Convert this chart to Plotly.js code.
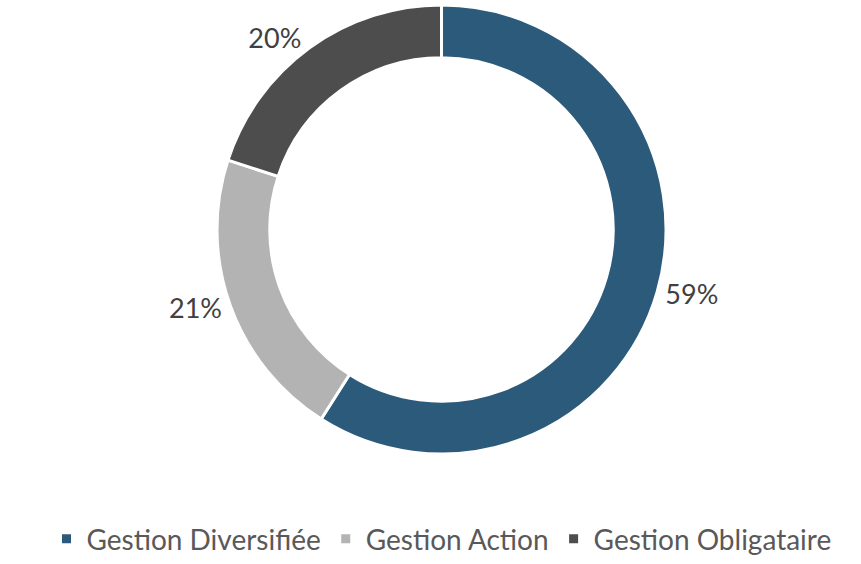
<!DOCTYPE html>
<html>
<head>
<meta charset="utf-8">
<script src="https://cdn.plot.ly/plotly-3.0.1.min.js"></script>
<style>html,body{margin:0;padding:0;background:#fff;}#chart{width:861px;height:564px;}</style>
</head>
<body>
<div id="chart"></div>
<script>
const categories = ["Gestion Diversifiée", "Gestion Action", "Gestion Obligataire"];
const values = [59, 21, 20];
const colors = ["#2C5A7A", "#B3B3B3", "#4D4D4D"];

const data = [{
  type: "pie",
  labels: categories,
  values: values,
  hole: 0.765,
  sort: false,
  direction: "clockwise",
  rotation: 0,
  marker: {colors: colors, line: {color: "#ffffff", width: 3}},
  textposition: "outside",
  texttemplate: "%{value}%",
  textfont: {family: "Lato, 'Open Sans', sans-serif", size: 27, color: "#404040"},
  hoverinfo: "label+percent",
  domain: {x: [0, 1], y: [0, 1]}
}];

const layout = {
  width: 861,
  height: 564,
  margin: {l: 22, r: 0, t: 5, b: 95},
  paper_bgcolor: "#ffffff",
  plot_bgcolor: "#ffffff",
  showlegend: true,
  legend: {
    orientation: "h",
    x: 0.5, xanchor: "center",
    y: -0.19, yanchor: "middle",
    font: {family: "Lato, 'Open Sans', sans-serif", size: 28, color: "#595959"},
    itemwidth: 30
  }
};

Plotly.newPlot("chart", data, layout, {displayModeBar: false, staticPlot: true});
</script>
</body>
</html>
